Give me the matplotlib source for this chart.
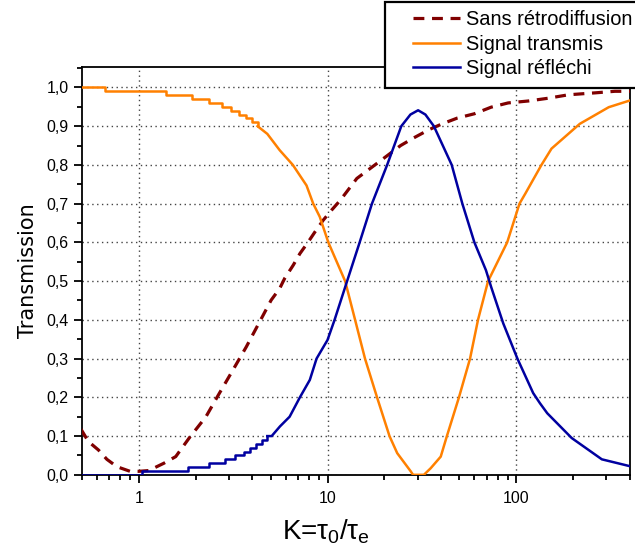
import numpy as np
import matplotlib
matplotlib.use('Agg')
import matplotlib.pyplot as plt
from matplotlib.patches import Rectangle
from matplotlib.ticker import FuncFormatter, MultipleLocator, LogLocator, NullFormatter

plt.rcParams['font.family'] = ['Liberation Sans', 'DejaVu Sans']
plt.rcParams['mathtext.fontset'] = 'custom'
plt.rcParams['mathtext.rm'] = 'Liberation Sans'
plt.rcParams['mathtext.it'] = 'Liberation Sans'

# --- Data ---
# Sans retrodiffusion (dashed)
k_sans = [0.494, 0.541, 0.612, 0.678, 0.766, 0.90, 1.0, 1.13, 1.36, 1.57, 1.85, 2.27, 2.67,
          3.15, 3.71, 4.37, 5.03, 5.58, 5.93, 6.58, 7.14, 7.9, 8.58, 9.48, 10.5, 11.7, 14.3,
          19.0, 24.4, 28.7, 34.5, 40.5, 48.8, 60.0, 73.6, 90.6, 116, 147, 189, 262, 333, 410]
t_sans = [0.118, 0.086, 0.064, 0.040, 0.021, 0.009, 0.009, 0.011, 0.030, 0.047, 0.095, 0.150,
          0.210, 0.270, 0.330, 0.395, 0.451, 0.481, 0.507, 0.541, 0.571, 0.601, 0.627, 0.657,
          0.683, 0.709, 0.765, 0.810, 0.850, 0.870, 0.891, 0.906, 0.921, 0.932, 0.949, 0.960,
          0.965, 0.972, 0.981, 0.986, 0.990, 0.990]

# Signal transmis: quantised start (steps) then the smooth part
k_trans_step = [0.49, 0.66, 1.39, 1.92, 2.36, 2.77, 3.1, 3.41, 3.71, 4.0, 4.26]
t_trans_step = [1.00, 0.99, 0.98, 0.97, 0.96, 0.95, 0.94, 0.93, 0.92, 0.91, 0.90]
k_trans = [4.26, 4.8, 5.58, 6.55, 7.74, 8.4, 9.1, 10.1, 12.4, 14.0, 15.8, 18.3, 21.3, 23.4,
           27.6, 28.4, 32.4, 35.2, 39.8, 42.9, 49.7, 56.9, 62.7, 70.9, 89.5, 104, 111.7, 136,
           153.7, 217, 309, 410]
t_trans = [0.90, 0.88, 0.838, 0.80, 0.747, 0.70, 0.666, 0.60, 0.50, 0.40, 0.30, 0.20, 0.10,
           0.056, 0.009, 0.0, 0.0, 0.017, 0.047, 0.10, 0.20, 0.30, 0.40, 0.50, 0.60, 0.70,
           0.726, 0.80, 0.842, 0.906, 0.949, 0.968]

# Signal reflechi
k_refl_step = [0.49, 1.04, 1.83, 2.36, 2.87, 3.25, 3.6, 3.9, 4.2, 4.5, 4.8]
t_refl_step = [0.00, 0.01, 0.02, 0.03, 0.04, 0.05, 0.06, 0.07, 0.08, 0.09, 0.10]
k_refl = [4.8, 5.06, 5.6, 6.3, 7.14, 8.06, 8.75, 10.0, 10.9, 12.7, 14.8, 17.2, 20.7, 24.6,
          27.5, 30.2, 33.0, 36.6, 45.5, 51.8, 60.0, 69.1, 73.6, 85.3, 101.4, 122.9, 133.4,
          145.9, 196.6, 284, 410]
t_refl = [0.10, 0.10, 0.125, 0.15, 0.20, 0.245, 0.30, 0.348, 0.40, 0.50, 0.60, 0.70, 0.80,
          0.90, 0.93, 0.941, 0.93, 0.90, 0.80, 0.70, 0.60, 0.528, 0.485, 0.391, 0.30, 0.211,
          0.185, 0.159, 0.095, 0.040, 0.021]

c_sans = '#800000'
c_trans = '#ff8000'
c_refl = '#0000a0'

fig = plt.figure(figsize=(6.35, 5.56), dpi=100)
ax = fig.add_axes([0.129, 0.146, 0.863, 0.733])

ax.plot(k_sans, t_sans, color=c_sans, lw=2.3, dashes=(3.4, 2.4), label='Sans rétrodiffusion', zorder=3)
ax.plot(k_trans_step, t_trans_step, color=c_trans, lw=1.8, drawstyle='steps-post', zorder=3)
ax.plot(k_trans, t_trans, color=c_trans, lw=1.8, label='Signal transmis', zorder=3)
ax.plot(k_refl_step, t_refl_step, color=c_refl, lw=1.8, drawstyle='steps-post', zorder=3)
ax.plot(k_refl, t_refl, color=c_refl, lw=1.8, label='Signal réfléchi', zorder=3)

ax.set_xscale('log')
ax.set_xlim(0.5, 400)
ax.set_ylim(0, 1.052)
ax.xaxis.set_major_locator(LogLocator(base=10))
ax.xaxis.set_minor_locator(LogLocator(base=10, subs=np.arange(2, 10)))
ax.xaxis.set_minor_formatter(NullFormatter())
ax.xaxis.set_major_formatter(FuncFormatter(lambda v, p: '%g' % v))
ax.yaxis.set_major_locator(MultipleLocator(0.1))
ax.yaxis.set_minor_locator(MultipleLocator(0.05))
ax.yaxis.set_major_formatter(FuncFormatter(lambda v, p: ('%.1f' % v).replace('.', ',')))

ax.tick_params(which='both', direction='out', width=1.3, labelsize=11.5)
ax.tick_params(which='major', length=6)
ax.tick_params(which='minor', length=3.5)
ax.tick_params(axis='x', pad=6)
for s in ax.spines.values():
    s.set_linewidth(1.3)

ax.grid(True, which='major', linestyle=(0, (1, 2.5)), color='#444444', linewidth=1.0)
ax.set_axisbelow(True)

ax.set_ylabel('Transmission', fontsize=15, labelpad=6, family='DejaVu Sans')
ax.set_xlabel(r'K=$\tau_0$/$\tau_\mathrm{e}$', fontsize=20, labelpad=4)
ax.xaxis.set_label_coords(0.445, -0.105)

# legend frame drawn separately (it runs off the right edge of the figure)
fig.patches.append(Rectangle((385 / 635, 1 - 88 / 556), 0.5, 86 / 556,
                             transform=fig.transFigure, facecolor='white',
                             edgecolor='black', linewidth=1.6, zorder=5))
leg = fig.legend(loc='upper left', bbox_to_anchor=(413 / 635, 1 - 10 / 556), fontsize=14.4,
                 frameon=False, handlelength=2.35, handletextpad=0.3, labelspacing=0.28,
                 borderpad=0.0, borderaxespad=0.0)
leg.set_zorder(6)

fig.savefig('out.png', dpi=100)
